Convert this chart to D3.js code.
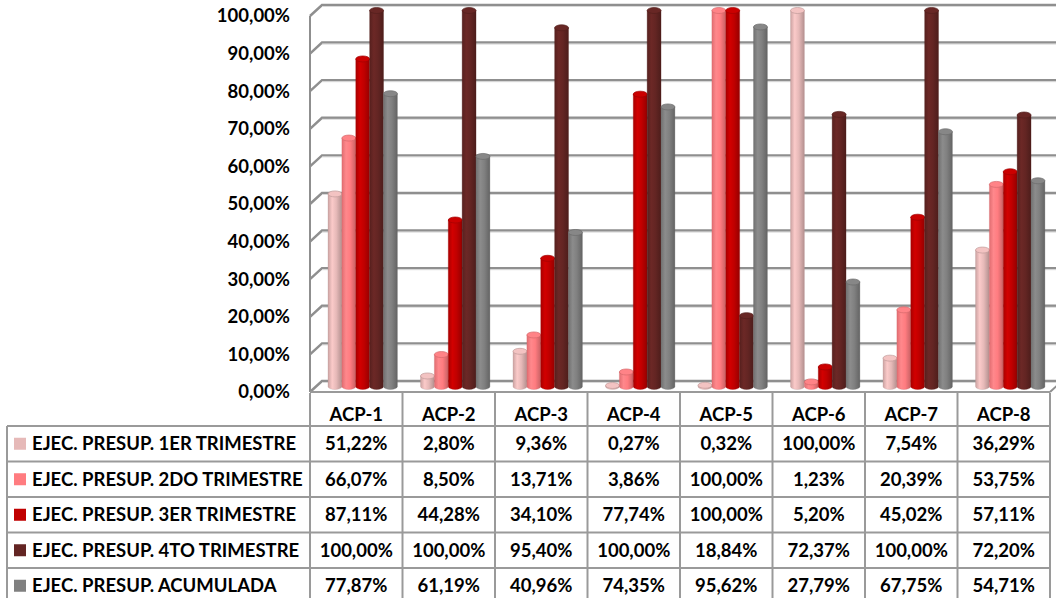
<!DOCTYPE html>
<html>
<head>
<meta charset="utf-8">
<script src="https://cdn.jsdelivr.net/npm/d3@7"></script>
<style>
  body { margin: 0; background: #fff; }
  svg text { font-family: Lato, "Open Sans", sans-serif; font-weight: bold; fill: #000; }
</style>
</head>
<body>
<div id="chart"></div>
<script>
// data
const categories = ['ACP-1', 'ACP-2', 'ACP-3', 'ACP-4', 'ACP-5', 'ACP-6', 'ACP-7', 'ACP-8'];
const seriesNames = [
  'EJEC. PRESUP. 1ER TRIMESTRE',
  'EJEC. PRESUP. 2DO TRIMESTRE',
  'EJEC. PRESUP. 3ER TRIMESTRE',
  'EJEC. PRESUP. 4TO TRIMESTRE',
  'EJEC. PRESUP. ACUMULADA'
];
const trim1 = [51.22, 2.80, 9.36, 0.27, 0.32, 100.00, 7.54, 36.29];
const trim2 = [66.07, 8.50, 13.71, 3.86, 100.00, 1.23, 20.39, 53.75];
const trim3 = [87.11, 44.28, 34.10, 77.74, 100.00, 5.20, 45.02, 57.11];
const trim4 = [100.00, 100.00, 95.40, 100.00, 18.84, 72.37, 100.00, 72.20];
const acumulada = [77.87, 61.19, 40.96, 74.35, 95.62, 27.79, 67.75, 54.71];
const seriesColors = ['#E6B9B8', '#FF7C80', '#C00000', '#632523', '#808080'];

const seriesValues = [trim1, trim2, trim3, trim4, acumulada];

const W = 1056, H = 598;
const depth = {dx: 12, dy: -11};
const plot = {left: 310, right: 1050, top: 16, bottom: 392};
const table = {left: 7, headerTop: 393, headerBottom: 426, rowH: 35.5};
const fontSize = '18.5px';

const locale = d3.formatLocale({decimal: ',', thousands: '.', grouping: [3], currency: ['', '']});
const fmt = v => locale.format('.2f')(v) + '%';

const svg = d3.select('#chart').append('svg')
  .attr('width', W)
  .attr('height', H);

const defs = svg.append('defs');

// scales (front plane)
const x0 = d3.scaleBand().domain(categories).range([plot.left, plot.right]);
const x1 = d3.scaleBand().domain(d3.range(seriesNames.length))
  .range([x0.bandwidth() * 0.13, x0.bandwidth() * 0.88]);
const y = d3.scaleLinear().domain([0, 100]).range([plot.bottom, plot.top]);
const yTicks = y.ticks(10);

// walls and gridlines
const walls = svg.append('g');
const gridColor = '#8f8f8f';

walls.append('line')
  .attr('x1', plot.left).attr('x2', plot.left)
  .attr('y1', y(100)).attr('y2', y(0))
  .attr('stroke', gridColor).attr('stroke-width', 2);

yTicks.forEach(t => {
  const yb = y(t) + depth.dy;
  walls.append('path')
    .attr('d', `M${plot.left},${y(t)}L${plot.left + depth.dx},${yb}L${plot.right + depth.dx + 20},${yb}`)
    .attr('fill', 'none')
    .attr('stroke', gridColor)
    .attr('stroke-width', 2.5);
  walls.append('line')
    .attr('x1', plot.left + depth.dx).attr('x2', plot.right + depth.dx + 20)
    .attr('y1', yb + 1.5).attr('y2', yb + 1.5)
    .attr('stroke', '#d9d9d9').attr('stroke-width', 1);
});

// floor right edge
walls.append('line')
  .attr('x1', plot.right).attr('y1', y(0))
  .attr('x2', plot.right + depth.dx).attr('y2', y(0) + depth.dy)
  .attr('stroke', gridColor).attr('stroke-width', 2);

// y axis labels
svg.append('g').selectAll('text')
  .data(yTicks)
  .join('text')
  .attr('x', 290)
  .attr('y', d => y(d))
  .attr('dy', '0.35em')
  .attr('text-anchor', 'end')
  .style('font-size', fontSize)
  .text(d => fmt(d));

// cylinder gradients
seriesColors.forEach((c, i) => {
  const base = d3.color(c);
  const g = defs.append('linearGradient').attr('id', 'cyl' + i)
    .attr('x1', 0).attr('x2', 1).attr('y1', 0).attr('y2', 0);
  g.append('stop').attr('offset', 0).attr('stop-color', base.darker(0.35));
  g.append('stop').attr('offset', 0.3).attr('stop-color', base.brighter(0.25));
  g.append('stop').attr('offset', 0.6).attr('stop-color', base);
  g.append('stop').attr('offset', 1).attr('stop-color', base.darker(0.7));
});

// bars (drawn at mid depth)
const mid = {dx: depth.dx / 2, dy: depth.dy / 2};
const ry = 3;
const bars = svg.append('g');
categories.forEach((cat, ci) => {
  seriesValues.forEach((vals, si) => {
    const v = vals[ci];
    const bx = x0(cat) + x1(si) + mid.dx;
    const bw = x1.bandwidth();
    const rx = bw / 2;
    const yTop = y(v) + mid.dy;
    const yBot = y(0) + mid.dy;
    const col = d3.color(seriesColors[si]);
    const g = bars.append('g');
    g.append('path')
      .attr('d', `M${bx},${yTop}L${bx},${yBot}A${rx},${ry} 0 0 0 ${bx + bw},${yBot}L${bx + bw},${yTop}Z`)
      .attr('fill', `url(#cyl${si})`)
      .attr('stroke', col.darker(0.6))
      .attr('stroke-width', 0.5)
      .attr('stroke-opacity', 0.6);
    g.append('ellipse')
      .attr('cx', bx + rx).attr('cy', yTop)
      .attr('rx', rx).attr('ry', ry)
      .attr('fill', col.brighter(0.15))
      .attr('stroke', col.darker(0.5))
      .attr('stroke-width', 0.7);
  });
});

// data table
const tableColor = '#9a9a9a';
const tbl = svg.append('g');
const tableBottom = table.headerBottom + table.rowH * seriesNames.length;

// top edge of table (floor front)
tbl.append('line')
  .attr('x1', plot.left).attr('x2', plot.right)
  .attr('y1', plot.bottom).attr('y2', plot.bottom)
  .attr('stroke', tableColor).attr('stroke-width', 2);

// vertical lines
tbl.selectAll('.vline')
  .data(categories.map(c => x0(c)).concat([plot.right]))
  .join('line')
  .attr('class', 'vline')
  .attr('x1', d => d).attr('x2', d => d)
  .attr('y1', table.headerTop).attr('y2', tableBottom)
  .attr('stroke', tableColor).attr('stroke-width', 2);

tbl.append('line')
  .attr('x1', table.left).attr('x2', table.left)
  .attr('y1', table.headerBottom).attr('y2', tableBottom)
  .attr('stroke', tableColor).attr('stroke-width', 2);

// horizontal lines
d3.range(seriesNames.length + 1).forEach(i => {
  const yy = table.headerBottom + i * table.rowH;
  tbl.append('line')
    .attr('x1', table.left).attr('x2', plot.right)
    .attr('y1', yy).attr('y2', yy)
    .attr('stroke', tableColor).attr('stroke-width', 2);
});

// header
tbl.selectAll('.head')
  .data(categories)
  .join('text')
  .attr('class', 'head')
  .attr('x', d => x0(d) + x0.bandwidth() / 2)
  .attr('y', 414.5)
  .attr('dy', '0.35em')
  .attr('text-anchor', 'middle')
  .style('font-size', fontSize)
  .text(d => d);

// rows
seriesNames.forEach((name, si) => {
  const cy = table.headerBottom + si * table.rowH + table.rowH / 2;
  tbl.append('rect')
    .attr('x', 14).attr('y', cy - 6)
    .attr('width', 12).attr('height', 12)
    .attr('fill', seriesColors[si]);
  tbl.append('text')
    .attr('x', 32).attr('y', cy)
    .attr('dy', '0.35em')
    .style('font-size', fontSize)
    .text(name);
  tbl.selectAll('.val' + si)
    .data(seriesValues[si])
    .join('text')
    .attr('x', (d, i) => x0(categories[i]) + x0.bandwidth() / 2)
    .attr('y', cy)
    .attr('dy', '0.35em')
    .attr('text-anchor', 'middle')
    .style('font-size', fontSize)
    .text(d => fmt(d));
});
</script>
</body>
</html>
